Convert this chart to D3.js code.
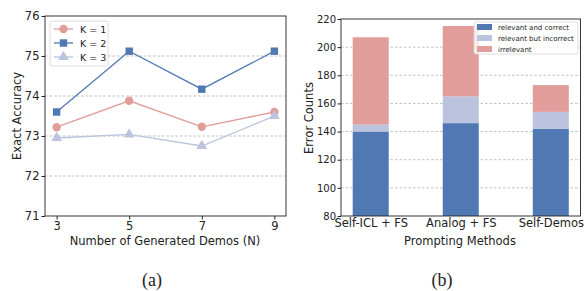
<!DOCTYPE html>
<html>
<head>
<meta charset="utf-8">
<script src="https://cdn.jsdelivr.net/npm/d3@7"></script>
<style>
  body { margin: 0; background: #fff; }
  text { font-family: "DejaVu Sans", sans-serif; fill: #222; }
  .caption { font-family: "Liberation Serif", serif; font-size: 18px; }
</style>
</head>
<body>
<script>
// left panel data
var demos = [3, 5, 7, 9];
var k1 = [73.22, 73.88, 73.23, 73.6];
var k2 = [73.6, 75.12, 74.17, 75.12];
var k3 = [72.95, 73.04, 72.75, 73.5];
var accTicks = [71, 72, 73, 74, 75, 76];

// right panel data
var methods = ['Self-ICL + FS', 'Analog + FS', 'Self-Demos'];
var relCorrect = [140, 146, 142];
var relIncorrect = [5, 19, 12];
var irrelevant = [62, 50, 19];
var countTicks = [80, 100, 120, 140, 160, 180, 200, 220];

var blue = '#5079b4', pink = '#e19d9a', lav = '#bbc3de';

var svg = d3.select('body').append('svg')
	.attr('width', 585)
	.attr('height', 291);

// ---------- (a) line chart ----------
var gA = svg.append('g');
var xA = d3.scaleLinear().domain([2.68, 9.32]).range([45, 286]);
var yA = d3.scaleLinear().domain([71, 76]).range([216, 16]);

// dashed grid
gA.selectAll('.grid')
	.data([72, 73, 74, 75])
	.enter().append('line')
	.attr('x1', 45).attr('x2', 286)
	.attr('y1', function(d) { return yA(d); })
	.attr('y2', function(d) { return yA(d); })
	.style('stroke', '#b0b0b0')
	.style('stroke-dasharray', '2.5,2')
	.style('stroke-width', 0.8);

var seriesA = [
	{ name: 'K = 1', vals: k1, color: pink, shape: d3.symbolCircle },
	{ name: 'K = 2', vals: k2, color: blue, shape: d3.symbolSquare },
	{ name: 'K = 3', vals: k3, color: lav, shape: d3.symbolTriangle }
];

var line = d3.line()
	.x(function(d, i) { return xA(demos[i]); })
	.y(function(d) { return yA(d); });

seriesA.forEach(function(s) {
	gA.append('path')
		.attr('d', line(s.vals))
		.style('fill', 'none')
		.style('stroke', s.color)
		.style('stroke-width', 1.3);
	gA.selectAll(null)
		.data(s.vals)
		.enter().append('path')
		.attr('d', d3.symbol().type(s.shape).size(s.shape === d3.symbolTriangle ? 50 : 55))
		.attr('transform', function(d, i) { return `translate(${xA(demos[i])}, ${yA(d)})`; })
		.style('fill', s.color);
});

gA.append('rect')
	.attr('x', 45).attr('y', 16)
	.attr('width', 241).attr('height', 200)
	.style('fill', 'none')
	.style('stroke', '#222')
	.style('stroke-width', 0.9);

var axA = gA.append('g')
	.attr('transform', 'translate(0,216)')
	.call(d3.axisBottom(xA).tickValues(demos).tickFormat(d3.format('d')).tickSize(3.5).tickPadding(2));
var ayA = gA.append('g')
	.attr('transform', 'translate(45,0)')
	.call(d3.axisLeft(yA).tickValues(accTicks).tickFormat(d3.format('d')).tickSize(3.5).tickPadding(2));
[axA, ayA].forEach(function(a) {
	a.select('.domain').remove();
	a.selectAll('text').style('font-size', '11.5px').style('fill', '#222');
	a.selectAll('line').style('stroke', '#222');
});

gA.append('text')
	.attr('x', 165).attr('y', 245)
	.style('text-anchor', 'middle')
	.style('font-size', '11.5px')
	.text('Number of Generated Demos (N)');
gA.append('text')
	.attr('transform', 'translate(21,116) rotate(-90)')
	.style('text-anchor', 'middle')
	.style('font-size', '11.5px')
	.text('Exact Accuracy');

// legend (a)
var legA = gA.append('g');
legA.append('rect')
	.attr('x', 50).attr('y', 21)
	.attr('width', 58).attr('height', 45)
	.attr('rx', 2)
	.style('fill', '#fff')
	.style('fill-opacity', 0.8)
	.style('stroke', '#d6d6d6')
	.style('stroke-width', 0.8);
seriesA.forEach(function(s, i) {
	var ly = 29 + i * 14;
	legA.append('line')
		.attr('x1', 54).attr('x2', 73)
		.attr('y1', ly).attr('y2', ly)
		.style('stroke', s.color)
		.style('stroke-width', 1.3);
	legA.append('path')
		.attr('d', d3.symbol().type(s.shape).size(s.shape === d3.symbolTriangle ? 50 : 55))
		.attr('transform', `translate(63.5, ${ly})`)
		.style('fill', s.color);
	legA.append('text')
		.attr('x', 80).attr('y', ly + 3.5)
		.style('font-size', '9.5px')
		.text(s.name);
});

svg.append('text')
	.classed('caption', true)
	.attr('x', 152).attr('y', 286)
	.style('text-anchor', 'middle')
	.text('(a)');

// ---------- (b) stacked bars ----------
var gB = svg.append('g');
var xB = d3.scaleLinear().domain([-0.33, 2.33]).range([341, 580.5]);
var yB = d3.scaleLinear().domain([80, 220]).range([216, 19]);
var barW = xB(0.4) - xB(0);

gB.selectAll('.grid')
	.data([100, 120, 140, 160, 180, 200])
	.enter().append('line')
	.attr('x1', 341).attr('x2', 580.5)
	.attr('y1', function(d) { return yB(d); })
	.attr('y2', function(d) { return yB(d); })
	.style('stroke', '#b0b0b0')
	.style('stroke-dasharray', '2.5,2')
	.style('stroke-width', 0.8);

var table = methods.map(function(m, i) {
	return { method: m, idx: i, correct: relCorrect[i], incorrect: relIncorrect[i], irrelevant: irrelevant[i] };
});
var keys = ['correct', 'incorrect', 'irrelevant'];
var colorB = d3.scaleOrdinal().domain(keys).range([blue, lav, pink]);
var stacked = d3.stack().keys(keys)(table);

gB.selectAll('.layer')
	.data(stacked)
	.enter().append('g')
	.style('fill', function(d) { return colorB(d.key); })
	.selectAll('rect')
	.data(function(d) { return d; })
	.enter().append('rect')
	.attr('x', function(d) { return xB(d.data.idx) - barW / 2; })
	.attr('width', barW)
	.attr('y', function(d) { return yB(d[1]); })
	.attr('height', function(d) { return yB(Math.max(d[0], 80)) - yB(d[1]); });

gB.append('rect')
	.attr('x', 341).attr('y', 19)
	.attr('width', 239.5).attr('height', 197)
	.style('fill', 'none')
	.style('stroke', '#222')
	.style('stroke-width', 0.9);

var axB = gB.append('g')
	.attr('transform', 'translate(0,216)')
	.call(d3.axisBottom(xB).tickValues([0, 1, 2]).tickFormat(function(d) { return methods[d]; }).tickSize(0).tickPadding(3));
var ayB = gB.append('g')
	.attr('transform', 'translate(341,0)')
	.call(d3.axisLeft(yB).tickValues(countTicks).tickSize(3.5).tickPadding(1.5));
[axB, ayB].forEach(function(a) {
	a.select('.domain').remove();
	a.selectAll('line').style('stroke', '#222');
});
axB.selectAll('text').style('font-size', '11.5px').style('fill', '#222');
ayB.selectAll('text').style('font-size', '10px').style('fill', '#222');

gB.append('text')
	.attr('x', 460).attr('y', 245)
	.style('text-anchor', 'middle')
	.style('font-size', '11.5px')
	.text('Prompting Methods');
gB.append('text')
	.attr('transform', 'translate(313,118) rotate(-90)')
	.style('text-anchor', 'middle')
	.style('font-size', '11.5px')
	.text('Error Counts');

// legend (b)
var legNames = ['relevant and correct', 'relevant but incorrect', 'irrelevant'];
var legB = gB.append('g');
legB.append('rect')
	.attr('x', 474).attr('y', 22)
	.attr('width', 104).attr('height', 32)
	.attr('rx', 2)
	.style('fill', '#fff')
	.style('fill-opacity', 0.8)
	.style('stroke', '#d6d6d6')
	.style('stroke-width', 0.8);
legNames.forEach(function(n, i) {
	var ly = 27 + i * 11;
	legB.append('rect')
		.attr('x', 477).attr('y', ly - 3)
		.attr('width', 15).attr('height', 6)
		.style('fill', colorB(keys[i]));
	legB.append('text')
		.attr('x', 498).attr('y', ly + 2.5)
		.style('font-size', '7px')
		.text(n);
});

svg.append('text')
	.classed('caption', true)
	.attr('x', 442).attr('y', 286)
	.style('text-anchor', 'middle')
	.text('(b)');
</script>
</body>
</html>
